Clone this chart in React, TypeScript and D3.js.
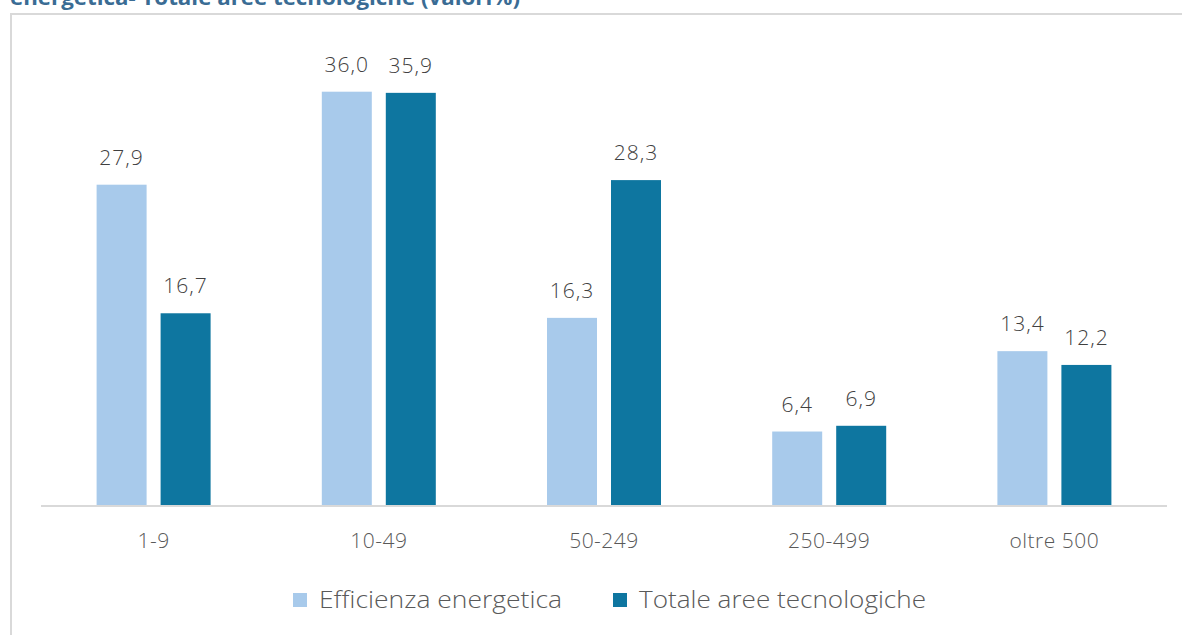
import * as d3 from "d3";

const categories = ["1-9", "10-49", "50-249", "250-499", "oltre 500"];
const seriesNames = ["Efficienza energetica", "Totale aree tecnologiche"];
const efficienza = [27.9, 36.0, 16.3, 6.4, 13.4];
const totale = [16.7, 35.9, 28.3, 6.9, 12.2];
const colors = ["#a8caeb", "#0e76a0"];

const W = 1182, H = 635;
const font = "'Open Sans', Lato, sans-serif";

export default function App() {
  const values = [efficienza, totale];

  const x0 = d3.scaleBand().domain(categories).range([41, 1167]).padding(0);
  const x1 = d3.scaleBand().domain(seriesNames).range([-57, 57]).paddingInner(0.21875);
  const y = d3.scaleLinear().domain([0, 36]).range([505, 91.7]);
  const fmt = (v: number) => d3.format(".1f")(v).replace(".", ",");

  // legend placement and text widths matched to the original layout
  const legendX = [293, 613];
  const legendW = [243, 287];

  return (
    <svg width={W} height={H} style={{ position: "absolute", left: 0, top: 0 }}>
      <rect x={0} y={0} width={W} height={H} fill="#fff" />
      <text x={10} y={5} fill="#3a6c94" fontFamily={font} fontWeight="bold" fontSize={21}
        textLength={510} lengthAdjust="spacingAndGlyphs">
        energetica- Totale aree tecnologiche (valori%)
      </text>
      <path d={`M${W + 5},14 H11 V${H + 5}`} fill="none" stroke="#d9d9d9" strokeWidth={2} />

      {categories.map((c, i) => {
        const cx = (x0(c) ?? 0) + x0.bandwidth() / 2;
        return (
          <g key={c}>
            {seriesNames.map((s, j) => {
              const v = values[j][i];
              const bx = cx + (x1(s) ?? 0);
              return (
                <g key={s}>
                  <rect x={bx} y={y(v)} width={x1.bandwidth()} height={y(0) - y(v)} fill={colors[j]} />
                  <text x={bx + x1.bandwidth() / 2} y={y(v) - 20} textAnchor="middle" fill="#404040"
                    fontFamily={font} fontWeight={300} fontSize={21} letterSpacing={1}>{fmt(v)}</text>
                </g>
              );
            })}
            <text x={cx} y={548} textAnchor="middle" fill="#595959" fontFamily={font} fontWeight={300}
              fontSize={21} letterSpacing={0.5}>{c}</text>
          </g>
        );
      })}

      <line x1={41} x2={1167} y1={506} y2={506} stroke="#d9d9d9" strokeWidth={2} />

      {seriesNames.map((s, j) => (
        <g key={s} transform={`translate(${legendX[j]},593)`}>
          <rect width={14} height={14} fill={colors[j]} />
          <text x={26} y={15} fill="#595959" fontFamily={font} fontWeight={300} fontSize={23}
            textLength={legendW[j]} lengthAdjust="spacingAndGlyphs">{s}</text>
        </g>
      ))}
    </svg>
  );
}
